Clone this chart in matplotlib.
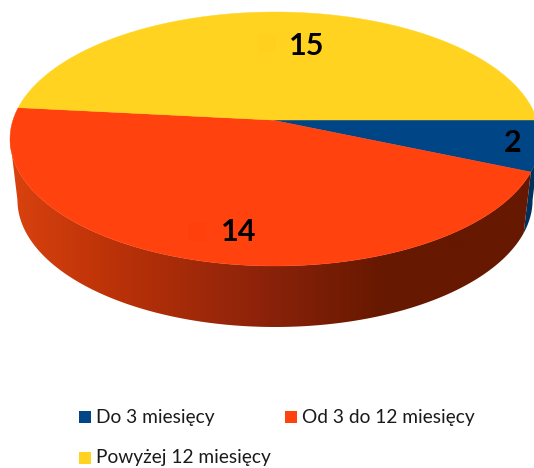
import numpy as np
import matplotlib
matplotlib.use('Agg')
import matplotlib.pyplot as plt
from matplotlib.colors import LinearSegmentedColormap
from matplotlib.patches import Polygon, Rectangle

plt.rcParams['font.family'] = ['Lato', 'DejaVu Sans']

categories = ['Do 3 miesięcy', 'Od 3 do 12 miesięcy', 'Powyżej 12 miesięcy']
values = [2, 14, 15]
colors = ['#004586', '#FF420E', '#FFD320']
marker_colors = ['#004586', '#FF3F0C', '#FFD11C']
side_stops = [(0.0, '#DA430F'), (0.2, '#BC3208'), (0.5, '#8A220A'), (0.72, '#661800'), (1.0, '#661800')]

# pie geometry in image pixels
cx = 275
apex_x = 272
apex_y = 120
scale_x = 262
q = -106.2
r = 0.1496
depth = 61
bottom_scale = 0.972


def project(deg, bottom=False):
    # tilted circle, the far side comes out a bit smaller
    t = np.radians(deg)
    u, v = np.cos(t), np.sin(t)
    w = 1 + r * v
    x = scale_x * u / w
    y = (apex_y + q * v) / w
    if bottom:
        return cx + x * bottom_scale, y + depth
    return cx + x, y


def arc(a1, a2, bottom=False):
    x, y = project(np.linspace(a1, a2, 200), bottom)
    return np.column_stack([x, y])


fig = plt.figure(figsize=(5.34, 4.68), dpi=100)
ax = fig.add_axes([0, 0, 1, 1])

# slices run clockwise from 3 o'clock
edges = -np.cumsum([0] + values) / sum(values) * 360

# wall only shows between the two widest points of the rim
tangent = np.degrees(np.arcsin(r))
wall_right = -tangent
wall_left = -180 + tangent

# side wall of the blue slice
blue_top = arc(wall_right, edges[1])
blue_low = arc(wall_right, edges[1], True)
ax.add_patch(Polygon(np.vstack([blue_top, blue_low[::-1]]), fc='#00305C', ec='none', zorder=1))

# side wall of the orange slice with its shading
orange_top = arc(edges[1], wall_left)
orange_low = arc(edges[1], wall_left, True)
side = Polygon(np.vstack([orange_top, orange_low[::-1]]), fc='none', ec='none', zorder=2)
ax.add_patch(side)
cmap = LinearSegmentedColormap.from_list('side', side_stops)
img = ax.imshow(np.linspace(0, 1, 256).reshape(1, -1), extent=[5, 534, 340, 90], cmap=cmap,
                aspect='auto', zorder=2, vmin=0, vmax=1)
img.set_clip_path(side)

# top face
for i in range(len(values)):
    pts = np.vstack([[apex_x, apex_y], arc(edges[i], edges[i + 1])])
    ax.add_patch(Polygon(pts, fc=colors[i], ec=colors[i], lw=0.3, zorder=3))

# data labels with their small faint keys
label_pos = [(513, 143), (239, 232), (307, 46)]
key_pos = [(484, 143), (197, 232), (267, 43)]
for i in range(len(values)):
    ax.text(label_pos[i][0], label_pos[i][1], str(values[i]), fontsize=22, fontweight='bold',
            color='black', ha='center', va='center', zorder=5)
    ax.add_patch(Rectangle((key_pos[i][0] - 9, key_pos[i][1] - 9), 18, 18, fc=marker_colors[i],
                           ec='none', zorder=4))

# legend
legend_pos = [(79, 417), (285, 417), (79, 458)]
for i in range(len(categories)):
    x, y = legend_pos[i]
    ax.add_patch(Rectangle((x, y - 6), 12, 12, fc=colors[i], ec='none', zorder=4))
    ax.text(x + 17, y, categories[i], fontsize=13.8, color='#1a1a1a', ha='left', va='center', zorder=5)

ax.set_xlim(0, 534)
ax.set_ylim(468, 0)
ax.axis('off')

fig.savefig('out.png', dpi=100)
